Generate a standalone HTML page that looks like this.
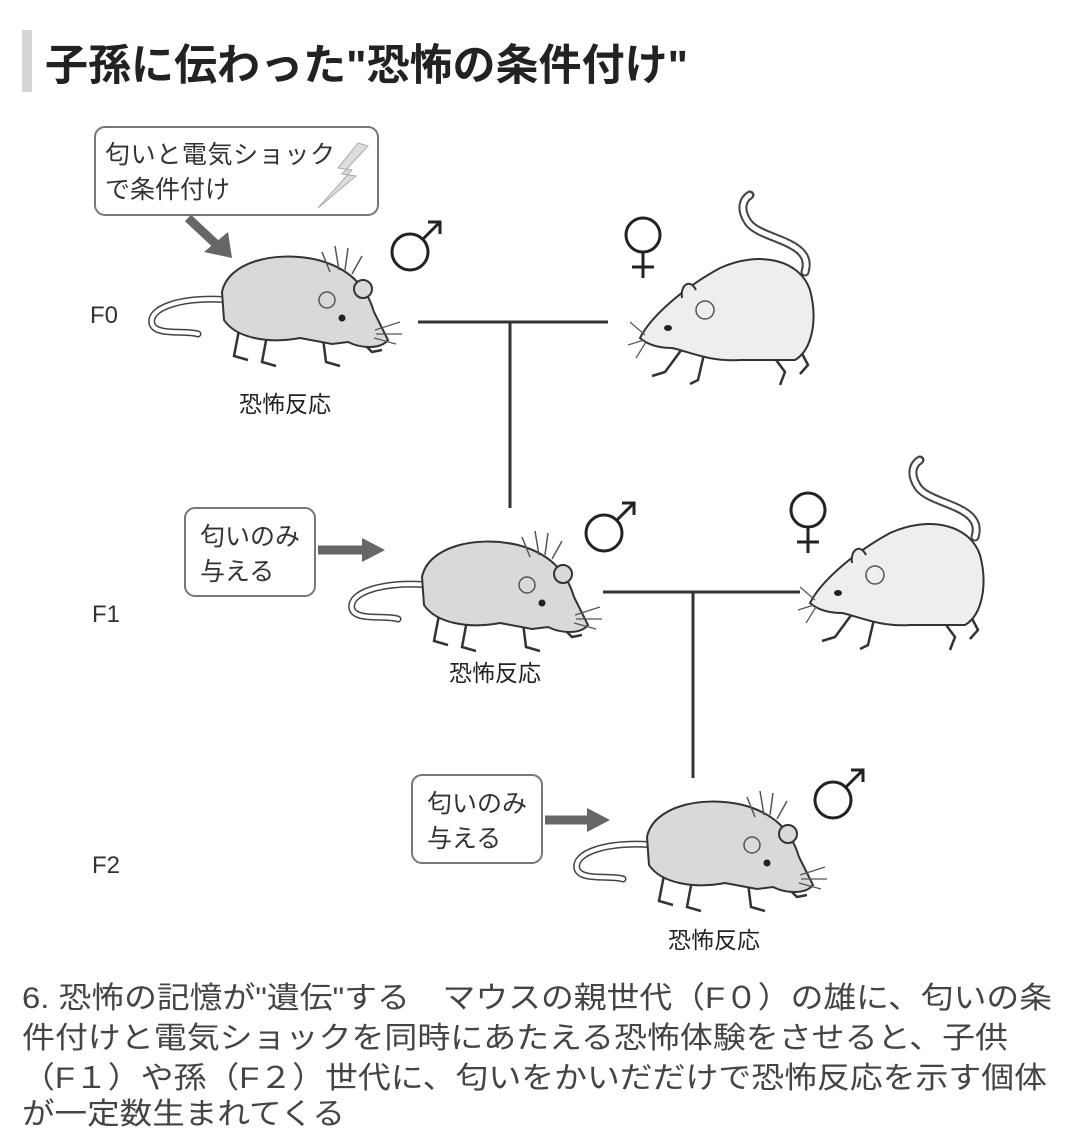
<!DOCTYPE html>
<html><head><meta charset="utf-8">
<style>
html,body{margin:0;padding:0;background:#fff;}
body{width:1080px;height:1148px;position:relative;overflow:hidden;font-family:"Liberation Sans","Noto Sans CJK JP",sans-serif;}
</style></head><body>
<svg width="1080" height="1148" style="position:absolute;left:0;top:0" font-family="Liberation Sans, Noto Sans CJK JP, sans-serif">
<defs>
<g id="male">
  <path d="M232,300 C180,296 148,308 152,324 C156,336 185,330 198,334" fill="none" stroke="#444" stroke-width="7" stroke-linecap="round"/>
  <path d="M232,300 C180,296 148,308 152,324 C156,336 185,330 198,334" fill="none" stroke="#fff" stroke-width="4" stroke-linecap="round"/>
  <path d="M240,325 L234,356 L248,360 M268,330 L262,362 L276,366 M322,330 L326,362 L340,366 M350,330 L372,352 L382,350" fill="none" stroke="#333" stroke-width="2.5"/>
  <path d="M222,292 C228,262 275,250 318,260 C348,268 366,285 374,312 L388,340 C380,350 360,348 348,342 L332,344 L300,338 C268,344 236,338 224,320 Z" fill="#d9d9d9" stroke="#333" stroke-width="2"/>
  <circle cx="363" cy="289" r="9" fill="#d9d9d9" stroke="#333" stroke-width="2"/>
  <circle cx="327" cy="300" r="8" fill="none" stroke="#555" stroke-width="1.5"/>
  <circle cx="342" cy="318" r="3.5" fill="#222"/>
  <path d="M375,330 L400,322 M376,334 L402,334 M374,338 L396,344" stroke="#555" stroke-width="1.2"/>
  <path d="M322,252 L330,272 M335,246 L339,270 M348,248 L345,270 M362,256 L352,274" stroke="#555" stroke-width="1.5"/>
</g>
<g id="female">
  <path d="M805,272 C815,240 760,240 748,222 C740,210 742,200 750,195" fill="none" stroke="#444" stroke-width="9" stroke-linecap="round"/>
  <path d="M805,272 C815,240 760,240 748,222 C740,210 742,200 750,195" fill="none" stroke="#fff" stroke-width="5" stroke-linecap="round" stroke-dasharray="3 2"/>
  <path d="M685,345 L665,372 L652,376 M705,350 L698,380 L690,384 M765,345 L785,372 L780,385 M795,340 L808,365 L800,374" fill="none" stroke="#333" stroke-width="2.5"/>
  <path d="M640,338 C650,318 680,290 720,268 C760,250 800,260 810,290 C818,320 812,350 795,360 L740,360 C710,362 690,352 672,348 C660,348 648,345 640,338 Z" fill="#eeeeee" stroke="#333" stroke-width="2"/>
  <path d="M682,298 C680,285 690,278 696,290" fill="#eee" stroke="#333" stroke-width="2"/>
  <circle cx="705" cy="310" r="9" fill="none" stroke="#555" stroke-width="1.5"/>
  <ellipse cx="668" cy="328" rx="4" ry="3" fill="#222"/>
  <path d="M645,335 L630,322 M644,340 L628,345 M646,342 L636,358" stroke="#555" stroke-width="1.2"/>
</g>
<g id="msym"><circle cx="0" cy="0" r="18" fill="none" stroke="#222" stroke-width="3"/><path d="M13,-13 L30,-30 M18,-30 L30,-30 L30,-18" fill="none" stroke="#222" stroke-width="3"/></g>
<g id="fsym"><circle cx="0" cy="0" r="17" fill="none" stroke="#222" stroke-width="3"/><path d="M0,17 L0,43 M-11,32 L11,32" stroke="#222" stroke-width="3"/></g>
</defs>
<rect x="22" y="30" width="10" height="62" fill="#d5d5d5"/>
<text x="45" y="80" font-size="43" font-weight="bold" fill="#222" textLength="643" lengthAdjust="spacingAndGlyphs">子孫に伝わった"恐怖の条件付け"</text>

<rect x="95" y="127" width="283" height="88" rx="10" fill="#fff" stroke="#777" stroke-width="2"/>
<text x="105" y="163" font-size="25" fill="#333" textLength="230">匂いと電気ショック</text>
<text x="105" y="198" font-size="25" fill="#333">で条件付け</text>
<path d="M358,143 L338,168 L352,170 L318,208 L356,176 L342,174 L368,146 Z" fill="#ddd" stroke="#aaa" stroke-width="1"/>
<path d="M188,218 L218,246" stroke="#666" stroke-width="9"/><path d="M204,252 L232,258 L228,232 Z" fill="#666"/>

<text x="90" y="323" font-size="24" fill="#333">F0</text>
<text x="92" y="622" font-size="24" fill="#333">F1</text>
<text x="92" y="873" font-size="24" fill="#333">F2</text>

<use href="#male"/>
<use href="#male" transform="translate(200,285)"/>
<use href="#male" transform="translate(425,545)"/>
<use href="#female"/>
<use href="#female" transform="translate(170,265)"/>
<use href="#msym" transform="translate(410,252)"/>
<use href="#msym" transform="translate(604,533)"/>
<use href="#msym" transform="translate(833,800)"/>
<use href="#fsym" transform="translate(643,235)"/>
<use href="#fsym" transform="translate(808,510)"/>

<text x="285" y="412" font-size="23" fill="#222" text-anchor="middle">恐怖反応</text>
<text x="495" y="681" font-size="23" fill="#222" text-anchor="middle">恐怖反応</text>
<text x="714" y="948" font-size="23" fill="#222" text-anchor="middle">恐怖反応</text>

<path d="M418,322 L608,322 M510,322 L510,508 M603,592 L800,592 M693,592 L693,778" stroke="#333" stroke-width="3" fill="none"/>

<rect x="185" y="508" width="130" height="88" rx="10" fill="#fff" stroke="#777" stroke-width="2"/>
<text x="200" y="545" font-size="25" fill="#333">匂いのみ</text>
<text x="200" y="580" font-size="25" fill="#333">与える</text>
<path d="M318,550 L365,550" stroke="#666" stroke-width="9"/><path d="M362,538 L385,550 L362,562 Z" fill="#666"/>

<rect x="412" y="775" width="130" height="88" rx="10" fill="#fff" stroke="#777" stroke-width="2"/>
<text x="427" y="812" font-size="25" fill="#333">匂いのみ</text>
<text x="427" y="847" font-size="25" fill="#333">与える</text>
<path d="M545,820 L590,820" stroke="#666" stroke-width="9"/><path d="M587,808 L610,820 L587,832 Z" fill="#666"/>

<g font-size="30" fill="#444">
<text x="22" y="1008" textLength="1030" lengthAdjust="spacingAndGlyphs">6. 恐怖の記憶が"遺伝"する　マウスの親世代（F０）の雄に、匂いの条</text>
<text x="22" y="1048" textLength="986" lengthAdjust="spacingAndGlyphs">件付けと電気ショックを同時にあたえる恐怖体験をさせると、子供</text>
<text x="22" y="1088" textLength="1025" lengthAdjust="spacingAndGlyphs">（F１）や孫（F２）世代に、匂いをかいだだけで恐怖反応を示す個体</text>
<text x="22" y="1124" textLength="323" lengthAdjust="spacingAndGlyphs">が一定数生まれてくる</text>
</g>
</svg>
</body></html>
